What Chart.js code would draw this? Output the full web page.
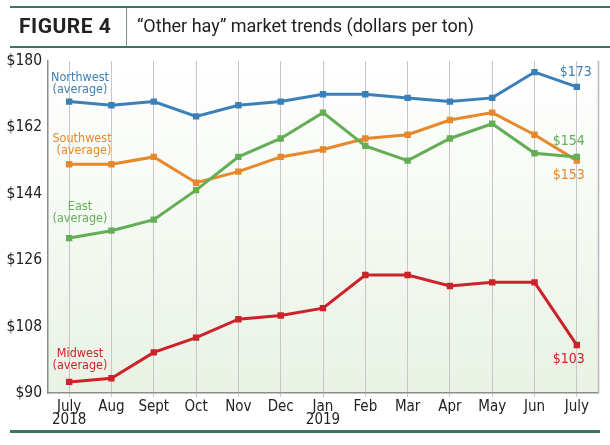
<!DOCTYPE html>
<html>
<head>
<meta charset="utf-8">
<script src="https://cdn.jsdelivr.net/npm/chart.js"></script>
<style>
  body { margin: 0; background: #fff; }
  #wrap { position: relative; width: 610px; height: 445px; overflow: hidden; }
  #chart { position: absolute; left: 0; top: 0; }
  .rule { position: absolute; background: #3d7565; }
  #fig { position: absolute; left: 19px; top: 14px; font: 700 21px Roboto, "DejaVu Sans", sans-serif; color: #222; letter-spacing: 0.5px; }
  #title { position: absolute; left: 137px; top: 15px; font: 400 18px Roboto, "DejaVu Sans", sans-serif; color: #222; }
</style>
</head>
<body>
<div id="wrap">
  <canvas id="chart" width="610" height="445"></canvas>
  <div class="rule" style="left:10px;top:6px;width:600px;height:2px"></div>
  <div class="rule" style="left:10px;top:46px;width:600px;height:2px"></div>
  <div class="rule" style="left:126px;top:8px;width:1px;height:38px;background:#6f9a8c"></div>
  <div class="rule" style="left:10px;top:430px;width:590px;height:3px"></div>
  <div id="fig">FIGURE 4</div>
  <div id="title">“Other hay” market trends (dollars per ton)</div>
</div>
<script>
// months July 2018 .. July 2019
const months = [["July", "2018"], "Aug", "Sept", "Oct", "Nov", "Dec", ["Jan", "2019"], "Feb", "Mar", "Apr", "May", "Jun", "July"];
const northwest = [169, 168, 169, 165, 168, 169, 171, 171, 170, 169, 170, 177, 173];
const southwest = [152, 152, 154, 147, 150, 154, 156, 159, 160, 164, 166, 160, 153];
const east = [132, 134, 137, 145, 154, 159, 166, 157, 153, 159, 163, 155, 154];
const midwest = [93, 94, 101, 105, 110, 111, 113, 122, 122, 119, 120, 120, 103];
const yTicks = [90, 108, 126, 144, 162, 180];

const font = '"Liberation Sans Narrow", "DejaVu Sans Condensed", "Liberation Sans", sans-serif';
const colors = { nw: "#3b7fb9", sw: "#e5892a", east: "#63ae55", mw: "#cc2229" };

function series(label, data, color) {
  return {
    label: label, data: data, borderColor: color, backgroundColor: color,
    borderWidth: 3, pointStyle: "rect", pointRadius: 4.5, pointBorderWidth: 0, tension: 0
  };
}

const extras = {
  id: "extras",
  beforeDraw(chart) {
    const { ctx, chartArea: a } = chart;
    const g = ctx.createLinearGradient(0, a.top, 0, a.bottom);
    g.addColorStop(0, "#ffffff");
    g.addColorStop(1, "#e9f2e5");
    ctx.save();
    ctx.fillStyle = g;
    ctx.fillRect(a.left, a.top, a.right - a.left, a.bottom - a.top);
    ctx.restore();
  },
  beforeDatasetsDraw(chart) {
    const { ctx, chartArea: a } = chart;
    ctx.save();
    ctx.strokeStyle = "#b8b8b8";
    ctx.lineWidth = 1.5;
    ctx.beginPath();
    ctx.moveTo(a.right + 0.5, a.top);
    ctx.lineTo(a.right + 0.5, a.bottom);
    ctx.stroke();
    ctx.restore();
  },
  afterDatasetsDraw(chart) {
    const { ctx } = chart;
    const x = chart.scales.x, y = chart.scales.y;
    const last = months.length - 1;
    ctx.save();
    ctx.textAlign = "center";
    ctx.textBaseline = "middle";
    ctx.font = "12.5px " + font;
    const names = [
      ["Northwest", 80, 78, colors.nw], ["(average)", 80, 90, colors.nw],
      ["Southwest", 82, 139, colors.sw], ["(average)", 84, 151, colors.sw],
      ["East", 80, 207, colors.east], ["(average)", 80, 219, colors.east],
      ["Midwest", 80, 354, colors.mw], ["(average)", 80, 366, colors.mw]
    ];
    names.forEach(n => { ctx.fillStyle = n[3]; ctx.fillText(n[0], n[1], n[2]); });
    ctx.font = "14px " + font;
    const px = x.getPixelForValue(last);
    const ends = [
      [northwest, colors.nw, -1, -14], [east, colors.east, -8, -16],
      [southwest, colors.sw, -8, 15], [midwest, colors.mw, -8, 14]
    ];
    ends.forEach(e => {
      const v = e[0][last];
      ctx.fillStyle = e[1];
      ctx.fillText("$" + v, px + e[2], y.getPixelForValue(v) + e[3]);
    });
    ctx.restore();
  }
};

new Chart(document.getElementById("chart"), {
  type: "line",
  data: {
    labels: months,
    datasets: [
      series("Northwest", northwest, colors.nw),
      series("East", east, colors.east),
      series("Southwest", southwest, colors.sw),
      series("Midwest", midwest, colors.mw)
    ]
  },
  options: {
    responsive: false,
    animation: false,
    layout: { padding: { top: 61, right: 12, left: 0, bottom: 0 } },
    plugins: { legend: { display: false }, tooltip: { enabled: false } },
    scales: {
      x: {
        offset: true,
        grid: { color: "#c6c6c6", tickLength: 4 },
        border: { color: "#8c8c8c", width: 1.5 },
        ticks: { color: "#222", font: { family: font, size: 15, lineHeight: 0.85 }, padding: 4, maxRotation: 0, autoSkip: false },
        afterFit(s) { s.height = 52; }
      },
      y: {
        min: 90, max: 180,
        afterBuildTicks(s) { s.ticks = yTicks.map(v => ({ value: v })); },
        grid: { display: false, drawTicks: false },
        border: { display: true, color: "#8c8c8c", width: 1.5 },
        ticks: { color: "#222", font: { family: font, size: 15.5 }, padding: 6, callback: v => "$" + v },
        afterFit(s) { s.width = 48; }
      }
    }
  },
  plugins: [extras]
});
</script>
</body>
</html>
